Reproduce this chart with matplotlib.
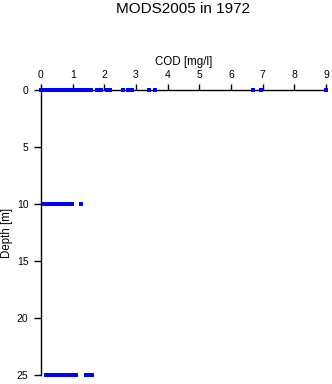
import matplotlib
matplotlib.use("Agg")
import matplotlib.pyplot as plt

plt.rcParams['font.family'] = ['Liberation Sans', 'DejaVu Sans']

# COD values [mg/l] at each depth
cod_0m = [0.00, 0.03, 0.05, 0.08, 0.10, 0.12, 0.15, 0.18, 0.20, 0.23, 0.25, 0.28,
          0.30, 0.33, 0.36, 0.40, 0.43, 0.46, 0.50, 0.53, 0.56, 0.60, 0.63, 0.66,
          0.70, 0.74, 0.78, 0.82, 0.86, 0.90, 0.95, 1.00, 1.05, 1.10, 1.15, 1.20,
          1.25, 1.30, 1.35, 1.39, 1.44, 1.50, 1.55, 1.58, 1.76, 1.89, 2.07, 2.12,
          2.17, 2.60, 2.75, 2.88, 3.41, 3.61, 6.68, 6.95, 9.00]
cod_10m = [0.09, 0.23, 0.27, 0.31, 0.35, 0.39, 0.43, 0.47, 0.49, 0.58, 0.67, 0.71,
           0.75, 0.79, 0.83, 0.87, 0.91, 0.95, 0.97, 1.25]
cod_25m = [0.16, 0.20, 0.25, 0.30, 0.35, 0.40, 0.44, 0.49, 0.54, 0.60, 0.65, 0.70,
           0.75, 0.80, 0.85, 0.90, 0.95, 1.00, 1.05, 1.10, 1.42, 1.47, 1.53, 1.60]
depths = [0, 10, 25]

fig = plt.figure(figsize=(3.32, 3.84), dpi=100)
ax = fig.add_axes([41/332, 1 - 375/384, 285/332, 285/384])

for d, vals in zip(depths, [cod_0m, cod_10m, cod_25m]):
    ax.plot(vals, [d] * len(vals), linestyle='none', marker='s', ms=2.4,
            color='#0000ff', mec='#0000ff', mew=0, clip_on=False, zorder=3)

ax.set_xlim(0, 9)
ax.set_ylim(25, 0)
ax.set_xticks(range(0, 10))
ax.set_yticks([0, 5, 10, 15, 20, 25])
ax.xaxis.tick_top()
ax.xaxis.set_label_position('top')
ax.spines['right'].set_visible(False)
ax.spines['bottom'].set_visible(False)
for s in ['top', 'left']:
    ax.spines[s].set_linewidth(1.0)
ax.tick_params(axis='x', labelsize=7.5, length=4, width=1, direction='out', pad=3)
ax.tick_params(axis='y', labelsize=7.5, length=5, width=1, direction='out', pad=4)
ax.set_xlabel('COD [mg/l]', fontsize=8.3, labelpad=4)
ax.set_ylabel('Depth [m]', fontsize=8.3, labelpad=3)
fig.text(183/332, 1 - 9/384, 'MODS2005 in 1972', ha='center', va='center', fontsize=11)

fig.savefig('out.png', dpi=100)
